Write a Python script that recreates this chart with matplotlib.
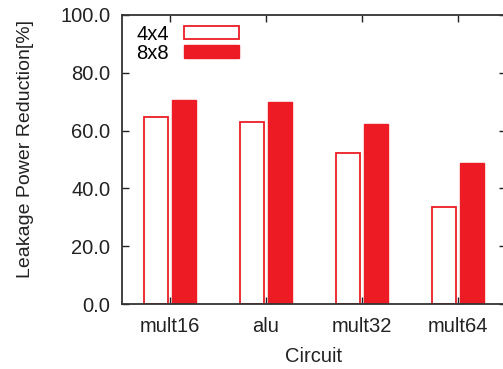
import numpy as np
import matplotlib
matplotlib.use("Agg")
from matplotlib import pyplot as plt
from matplotlib.patches import Patch

plt.rcParams['font.family'] = ['Liberation Sans', 'DejaVu Sans']

circuits = ["mult16", "alu", "mult32", "mult64"]
red4x4 = [64.7, 63.0, 52.4, 33.5]
red8x8 = [70.6, 70.0, 62.3, 48.8]
yticks = [0, 20, 40, 60, 80, 100]

red = '#ed1c24'
x = np.arange(len(circuits))
w = 0.25

fig = plt.figure(figsize=(5.03, 3.69), dpi=100)
ax = fig.add_axes([122/503, 65/369, 384/503, 289/369])

ax.bar(x - 0.15, red4x4, w, facecolor='white', edgecolor=red, linewidth=1.3)
ax.bar(x + 0.15, red8x8, w, facecolor=red, edgecolor=red, linewidth=1.0)

ax.set_xlim(-0.5, 3.5)
ax.set_ylim(0, 100)
ax.set_xticks(x)
ax.set_xticklabels(circuits)
ax.set_yticks(yticks)
ax.set_yticklabels(["%.1f" % v for v in yticks])
ax.tick_params(direction='in', top=True, right=True, length=5, width=1.0,
               labelsize=14.5, colors='#222222')
ax.tick_params(axis='y', pad=8.5)
ax.tick_params(axis='x', pad=9)
for s in ax.spines.values():
    s.set_linewidth(1.3)
    s.set_color('#333333')

ax.set_xlabel("Circuit", fontsize=14.5, color='#222222')
ax.set_ylabel("Leakage Power Reduction[%]", fontsize=14, color='#222222')
ax.xaxis.set_label_coords(0.5, -0.18)
ax.xaxis.label.set_va('center')
ax.yaxis.set_label_coords(-0.2526, 0.536)
ax.yaxis.label.set_va('center')

handles = [Patch(facecolor='white', edgecolor=red, linewidth=1.3),
           Patch(facecolor=red, edgecolor=red)]
ax.legend(handles, ["4x4", "8x8"], loc='upper left', frameon=False,
          fontsize=14.5, markerfirst=False, handlelength=2.75, handleheight=0.6,
          handletextpad=0.75, labelspacing=0.0, borderaxespad=0.2,
          bbox_to_anchor=(0.006, 1.008))

fig.savefig("out.png", dpi=100)
